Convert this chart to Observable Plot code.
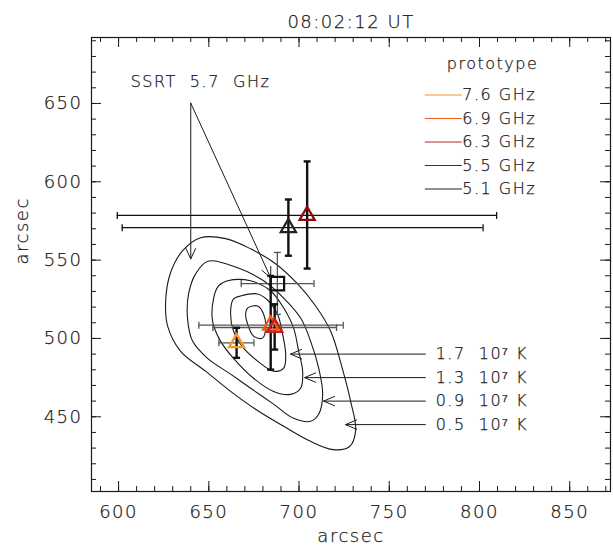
<!DOCTYPE html>
<html><head><meta charset="utf-8">
<script src="https://cdn.jsdelivr.net/npm/d3@7"></script>
<script src="https://cdn.jsdelivr.net/npm/@observablehq/plot@0.6"></script>
<style>
body{margin:0;background:#fff}
svg text{letter-spacing:1.5px;white-space:pre;fill:#1a1a1a;font-weight:300;stroke:#1a1a1a;stroke-width:0.25px}
</style>
</head><body><div id="chart"></div>
<script>
// ---- text ----
const title = "08:02:12 UT";
const axisTitle = "arcsec";
const legendTitle = "prototype";
const ssrtLabel = "SSRT  5.7  GHz";

// ---- ticks ----
const xMajor = [600, 650, 700, 750, 800, 850];
const yMajor = [450, 500, 550, 600, 650];
const xMinor = d3.range(590, 871, 10);
const yMinor = d3.range(410, 691, 10);

// ---- prototype sources (one per frequency) ----
const freqLabels = ["7.6 GHz", "6.9 GHz", "6.3 GHz", "5.5 GHz", "5.1 GHz"];
const freqColors = ["#f5962a", "#ef5a1c", "#c81e1e", "#8b0a0a", "#222222"];
const srcX   = [665.4, 684.3, 686.5, 704.5, 694.1];
const srcY   = [497.2, 508.5, 507.0, 578.5, 570.7];
const srcXLo = [655.6, 644.5, 652.3, 599.3, 602.0];
const srcXHi = [675.0, 724.5, 720.8, 809.5, 802.0];
const srcYLo = [487.6, 480.1, 492.9, 544.6, 552.8];
const srcYHi = [506.8, 539.9, 521.8, 613.0, 588.7];

// ---- SSRT 5.7 GHz source ----
const ssrtX = [688.0], ssrtY = [535.0];
const ssrtXLo = [668.0], ssrtXHi = [708.3];
const ssrtYLo = [515.4], ssrtYHi = [554.9];

// ---- SSRT contours (arcsec) ----
const contour05 = [[645.5,564.3],[659.3,563.7],[673.2,557.2],[687.0,547.7],[699.2,534.8],[709.2,520.7],[717.5,504.7],[724.2,480.0],[728.6,459.9],[731.4,441.5],[728.0,431.0],[719.0,429.0],[706.4,434.3],[691.5,443.9],[675.9,454.8],[662.1,466.2],[648.2,479.1],[634.4,491.8],[627.2,507.9],[626.1,523.9],[628.8,541.9],[635.5,556.0]];
const contour09 = [[649.5,549.3],[666.0,545.1],[680.4,536.8],[691.5,525.8],[700.9,513.0],[706.4,498.3],[710.9,481.0],[713.1,464.3],[710.9,451.6],[706.4,447.1],[697.0,449.0],[685.9,458.1],[673.2,468.2],[662.1,477.2],[649.3,487.3],[641.0,498.3],[638.2,513.0],[638.8,528.4],[642.7,541.2]];
const contour13 = [[655.4,533.5],[660.4,536.8],[673.2,536.8],[684.3,530.3],[691.5,519.4],[697.0,506.6],[699.8,491.8],[702.0,479.1],[700.9,468.2],[695.3,464.3],[685.9,466.2],[674.8,474.6],[663.7,487.3],[656.5,498.3],[652.1,511.1],[652.7,525.8]];
const contour17 = [[663.7,525.2],[667.6,527.1],[677.1,528.4],[683.1,523.9],[688.1,515.4],[690.9,502.8],[692.6,489.9],[691.5,481.0],[685.9,479.1],[677.1,485.5],[669.3,493.8],[663.7,504.7],[662.1,517.5]];
const contour21 = [[671.5,519.4],[677.1,520.7],[680.4,515.4],[681.5,506.6],[679.8,500.2],[674.8,501.5],[671.5,509.2],[670.4,515.4]];
const contours = [contour05, contour09, contour13, contour17, contour21];

// ---- contour level labels ----
const levelLabels = ["1.7  10\u2077 K", "1.3  10\u2077 K", "0.9  10\u2077 K", "0.5  10\u2077 K"];
const levelLabelY = [490, 475, 460, 445];
const levelTipX = [695.3, 703.1, 713.6, 725.8];

// ---- SSRT pointer arrows: [x1,y1,x2,y2] ----
const ssrtArrows = [[640, 650.2, 640, 550.8], [640, 650.2, 684.3, 538.7]];
const ssrtLabelPos = [606.7, 663.8];

// ---- legend placement (data units) ----
const legendX1 = 770, legendX2 = 790.5, legendTopY = 655.4, legendStep = 15;
const legendTitlePos = [807.2, 675.5];
const levelArrowX = 770, levelTextX = 775.7;

// layout
const W = 613, H = 550, mL = 91, mR = 3, mT = 37, mB = 59;
const plotW = W - mL - mR, plotH = H - mT - mB;
const ink = "#1a1a1a";

const capSymbol = (horizontal) => ({
  draw(ctx, size) {
    const r = Math.sqrt(size / Math.PI);
    if (horizontal) { ctx.moveTo(-r, 0); ctx.lineTo(r, 0); }
    else { ctx.moveTo(0, -r); ctx.lineTo(0, r); }
  }
});
const capH = capSymbol(true), capV = capSymbol(false);

const contourPts = contours.flatMap((c, k) => c.map(([x, y]) => ({x, y, k})));
const idx = d3.range(srcX.length);
const sIdx = [0];
const legIdx = d3.range(freqLabels.length);

const plot = Plot.plot({
  width: W, height: H,
  marginLeft: mL, marginRight: mR, marginTop: mT, marginBottom: mB,
  x: {domain: [585, 872.6]},
  y: {domain: [402.3, 692.1]},
  color: {type: "identity"},
  style: {fontFamily: "'DejaVu Sans', sans-serif", fontSize: "18px", color: ink, background: "#fff", overflow: "visible"},
  marks: [
    // contours
    Plot.line(contourPts, {x: "x", y: "y", z: "k", curve: "catmull-rom-closed", stroke: ink, strokeWidth: 1.1}),

    // SSRT square error bars
    Plot.ruleY(sIdx, {y: i => ssrtY[i], x1: i => ssrtXLo[i], x2: i => ssrtXHi[i], stroke: "#555", strokeWidth: 1.3}),
    Plot.ruleX(sIdx, {x: i => ssrtX[i], y1: i => ssrtYLo[i], y2: i => ssrtYHi[i], stroke: "#555", strokeWidth: 1.3}),
    Plot.dot(sIdx, {x: i => ssrtXLo[i], y: i => ssrtY[i], symbol: capV, r: 3.5, stroke: "#555", strokeWidth: 1.3}),
    Plot.dot(sIdx, {x: i => ssrtXHi[i], y: i => ssrtY[i], symbol: capV, r: 3.5, stroke: "#555", strokeWidth: 1.3}),
    Plot.dot(sIdx, {x: i => ssrtX[i], y: i => ssrtYLo[i], symbol: capH, r: 3.5, stroke: "#555", strokeWidth: 1.3}),
    Plot.dot(sIdx, {x: i => ssrtX[i], y: i => ssrtYHi[i], symbol: capH, r: 3.5, stroke: "#555", strokeWidth: 1.3}),

    // prototype horizontal error bars
    Plot.ruleY(idx, {y: i => srcY[i], x1: i => srcXLo[i], x2: i => srcXHi[i], stroke: i => i >= 3 ? "#111" : "#555", strokeWidth: 1.3}),
    Plot.dot(idx, {x: i => srcXLo[i], y: i => srcY[i], symbol: capV, r: 3.5, stroke: i => i >= 3 ? "#111" : "#555", strokeWidth: 1.3}),
    Plot.dot(idx, {x: i => srcXHi[i], y: i => srcY[i], symbol: capV, r: 3.5, stroke: i => i >= 3 ? "#111" : "#555", strokeWidth: 1.3}),
    // vertical error bars
    Plot.ruleX(idx, {x: i => srcX[i], y1: i => srcYLo[i], y2: i => srcYHi[i], stroke: "#111", strokeWidth: 2.4}),
    Plot.dot(idx, {x: i => srcX[i], y: i => srcYLo[i], symbol: capH, r: 3.5, stroke: "#111", strokeWidth: 2.4}),
    Plot.dot(idx, {x: i => srcX[i], y: i => srcYHi[i], symbol: capH, r: 3.5, stroke: "#111", strokeWidth: 2.4}),

    // markers
    Plot.dot(sIdx, {x: i => ssrtX[i], y: i => ssrtY[i], symbol: "square", r: 7.6, stroke: "#111", fill: "none", strokeWidth: 2.2}),
    Plot.dot(idx, {x: i => srcX[i], y: i => srcY[i], symbol: "triangle", r: 5.6, stroke: i => freqColors[i], fill: "none", strokeWidth: 2.3}),

    // SSRT arrows and label
    Plot.arrow(ssrtArrows, {x1: d => d[0], y1: d => d[1], x2: d => d[2], y2: d => d[3], stroke: ink, strokeWidth: 1, headLength: 17, headAngle: 50}),
    Plot.text([ssrtLabel], {text: d => d, x: () => ssrtLabelPos[0], y: () => ssrtLabelPos[1], textAnchor: "start", fontSize: 16, fill: ink}),

    // contour level arrows and labels
    Plot.arrow(levelLabels, {x1: () => levelArrowX, y1: (d, i) => levelLabelY[i], x2: (d, i) => levelTipX[i], y2: (d, i) => levelLabelY[i], stroke: ink, strokeWidth: 1, headLength: 18, headAngle: 46}),
    Plot.text(levelLabels, {text: d => d, x: () => levelTextX, y: (d, i) => levelLabelY[i], textAnchor: "start", fontSize: 16, fill: ink}),

    // legend
    Plot.text([legendTitle], {text: d => d, x: () => legendTitlePos[0], y: () => legendTitlePos[1], fontSize: 16, fill: ink}),
    Plot.ruleY(legIdx, {y: i => legendTopY - legendStep * i, x1: legendX1, x2: legendX2, stroke: i => freqColors[i], strokeWidth: 1.2}),
    Plot.text(legIdx, {text: i => freqLabels[i], x: () => legendX2, y: i => legendTopY - legendStep * i, textAnchor: "start", fontSize: 16, fill: ink}),

    // frame and inward ticks on all sides
    Plot.frame({stroke: ink, strokeWidth: 1.2}),
    Plot.tickX(xMinor, {x: d => d, insetTop: plotH - 5, stroke: ink}),
    Plot.tickX(xMinor, {x: d => d, insetBottom: plotH - 5, stroke: ink}),
    Plot.tickX(xMajor, {x: d => d, insetTop: plotH - 10, stroke: ink}),
    Plot.tickX(xMajor, {x: d => d, insetBottom: plotH - 10, stroke: ink}),
    Plot.tickY(yMinor, {y: d => d, insetRight: plotW - 5, stroke: ink}),
    Plot.tickY(yMinor, {y: d => d, insetLeft: plotW - 5, stroke: ink}),
    Plot.tickY(yMajor, {y: d => d, insetRight: plotW - 10, stroke: ink}),
    Plot.tickY(yMajor, {y: d => d, insetLeft: plotW - 10, stroke: ink}),

    // tick labels
    Plot.axisX({ticks: xMajor, tickSize: 0, tickPadding: 14, label: null, fontSize: 18}),
    Plot.axisY({ticks: yMajor, tickSize: 0, tickPadding: 9, label: null, fontSize: 18}),

    // titles
    Plot.text([title], {text: d => d, frameAnchor: "top", dy: -22, fontSize: 18, fill: ink}),
    Plot.text([axisTitle], {text: d => d, frameAnchor: "bottom", dy: 50, fontSize: 18, fill: ink}),
    Plot.text([axisTitle], {text: d => d, frameAnchor: "left", dx: -69, rotate: -90, fontSize: 18, fill: ink})
  ]
});
document.getElementById("chart").appendChild(plot);
</script>
</body></html>
